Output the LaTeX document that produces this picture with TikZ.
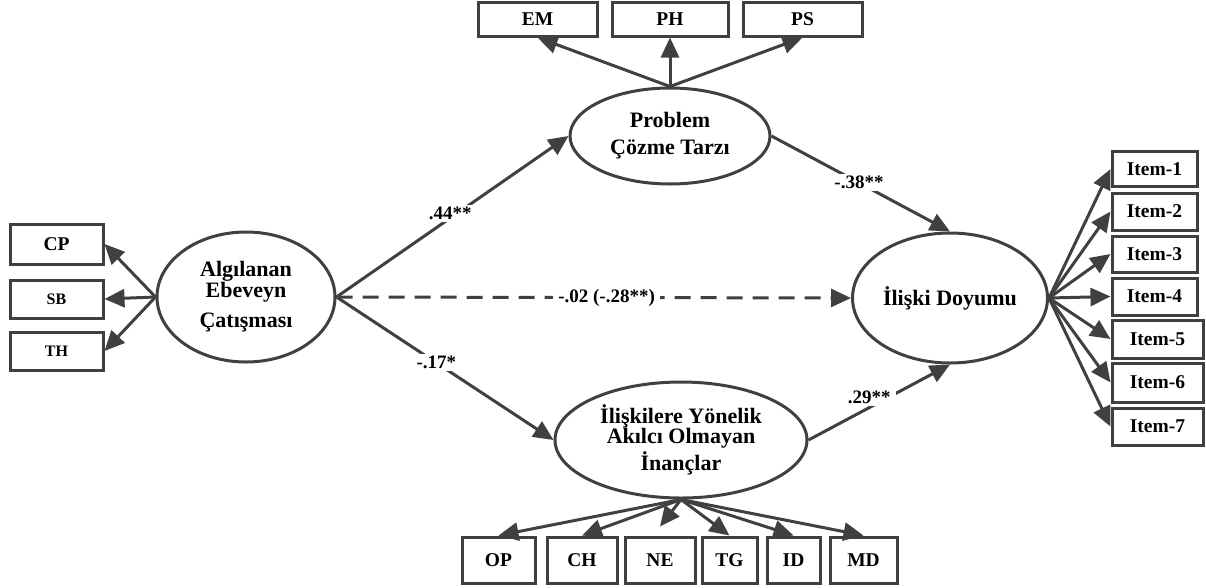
\documentclass[tikz,border=0pt]{standalone}
\usepackage{fontspec}
\setmainfont{Liberation Serif}
\usetikzlibrary{shapes.geometric,arrows.meta}
\definecolor{ln}{HTML}{404040}
\begin{document}
\begin{tikzpicture}[x=1pt,y=-1pt,
 lat/.style={ellipse,draw=ln,line width=3pt,inner sep=0pt,align=center,font=\fontsize{22}{21}\selectfont\bfseries},
 obs/.style={rectangle,draw=ln,line width=3pt,inner sep=0pt,font=\fontsize{19.5}{19.5}\selectfont\bfseries},
 arr/.style={draw=ln,line width=3pt,-{Triangle[length=20pt,width=18pt]}},
 coef/.style={fill=white,inner ysep=2pt,inner xsep=5pt,font=\fontsize{19}{19}\selectfont\bfseries}]
\useasboundingbox (0,0) rectangle (1206,587);
% latent variables
\node[lat,minimum width=178pt,minimum height=130pt] (A) at (246,297) {Algılanan\\Ebeveyn\\[9pt]Çatışması};
\node[lat,minimum width=200pt,minimum height=96pt] (P) at (670,136) {Problem\\[6pt]Çözme Tarzı};
\node[lat,minimum width=195pt,minimum height=130pt] (D) at (950,298) {İlişki Doyumu};
\node[lat,minimum width=252pt,minimum height=116pt] (I) at (681,440) {İlişkilere Yönelik\\[-1pt]Akılcı Olmayan\\[2pt]İnançlar};
% indicators
\node[obs,minimum width=93pt,minimum height=40pt] (CP) at (56.5,244) {CP};
\node[obs,minimum width=93pt,minimum height=38pt,font=\fontsize{16}{16}\selectfont\bfseries] (SB) at (56.5,299) {SB};
\node[obs,minimum width=93pt,minimum height=38pt,font=\fontsize{16}{16}\selectfont\bfseries] (TH) at (56.5,351) {TH};
\node[obs,minimum width=119pt,minimum height=34pt] (EM) at (537.5,19) {EM};
\node[obs,minimum width=116pt,minimum height=34pt] (PH) at (670,19) {PH};
\node[obs,minimum width=119pt,minimum height=34pt] (PS) at (802.5,19) {PS};
\node[obs,minimum width=85pt,minimum height=35pt] (I1) at (1154.5,169) {Item-1};
\node[obs,minimum width=85pt,minimum height=37pt] (I2) at (1154.5,211.5) {Item-2};
\node[obs,minimum width=85pt,minimum height=36pt] (I3) at (1154.5,254) {Item-3};
\node[obs,minimum width=85pt,minimum height=37pt] (I4) at (1154.5,296.5) {Item-4};
\node[obs,minimum width=91pt,minimum height=38pt] (I5) at (1157.5,339) {Item-5};
\node[obs,minimum width=91pt,minimum height=39pt] (I6) at (1157.5,382.5) {Item-6};
\node[obs,minimum width=91pt,minimum height=37pt] (I7) at (1157.5,426.5) {Item-7};
\node[obs,minimum width=73pt,minimum height=46pt] (OP) at (498.5,560) {OP};
\node[obs,minimum width=70pt,minimum height=46pt] (CH) at (582,560) {CH};
\node[obs,minimum width=70pt,minimum height=46pt] (NE) at (660,560) {NE};
\node[obs,minimum width=55pt,minimum height=46pt] (TG) at (729.5,560) {TG};
\node[obs,minimum width=53pt,minimum height=46pt] (ID) at (793.5,560) {ID};
\node[obs,minimum width=67pt,minimum height=46pt] (MD) at (863.5,560) {MD};
% measurement arrows
\foreach \b in {CP,SB,TH} \draw[arr] (A.west) -- (\b.east);
\foreach \b in {EM,PH,PS} \draw[arr] (P.north) -- (\b.south);
\foreach \b in {I1,I2,I3,I4,I5,I6,I7} \draw[arr] (D.east) -- (\b.west);
\foreach \b in {OP,CH,TG,ID,MD} \draw[arr] (I.south) -- (\b.north);
\draw[arr] (I.south) -- ([yshift=9pt]NE.north);
% structural paths
\draw[arr] (A.east) -- (P.west) node[coef,pos=0.49,yshift=5pt] {.44**};
\draw[arr] (P.east) -- (D.north) node[coef,pos=0.49] {-.38**};
\draw[arr,dash pattern=on 16pt off 10pt] (A.east) -- (D.west) node[coef,pos=0.525] {-.02 (-.28**)};
\draw[arr] (A.east) -- (I.west) node[coef,pos=0.46] {-.17*};
\draw[arr] (I.east) -- (D.south) node[coef,pos=0.43,yshift=10pt] {.29**};
\end{tikzpicture}
\end{document}
